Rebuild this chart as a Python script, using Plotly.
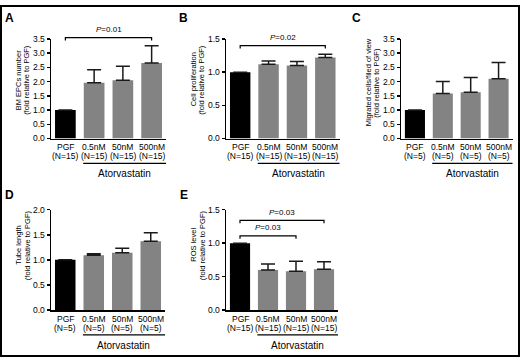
import plotly.graph_objects as go

W, H = 520, 362
FONT = "Liberation Sans, Arial, sans-serif"

categories = ["PGF", "0.5nM", "50nM", "500nM"]
group_label = "Atorvastatin"

A_n = ["(N=15)", "(N=15)", "(N=15)", "(N=15)"]
A_vals = [1.0, 1.96, 2.05, 2.66]
A_err = [0.0, 0.46, 0.49, 0.60]

B_n = ["(N=15)", "(N=15)", "(N=15)", "(N=15)"]
B_vals = [1.0, 1.12, 1.10, 1.22]
B_err = [0.0, 0.05, 0.06, 0.05]

C_n = ["(N=5)", "(N=5)", "(N=5)", "(N=5)"]
C_vals = [1.0, 1.58, 1.63, 2.10]
C_err = [0.0, 0.43, 0.52, 0.57]

D_n = ["(N=5)", "(N=5)", "(N=5)", "(N=5)"]
D_vals = [1.0, 1.09, 1.14, 1.37]
D_err = [0.0, 0.03, 0.09, 0.17]

E_n = ["(N=15)", "(N=15)", "(N=15)", "(N=15)"]
E_vals = [1.0, 0.60, 0.58, 0.61]
E_err = [0.0, 0.09, 0.15, 0.11]

bar_colors = ["#000000", "#838383", "#838383", "#838383"]

panels = [
    dict(label="A", vals=A_vals, err=A_err, ns=A_n,
         ytitle=["BM EPCs number", "(fold relative to PGF)"],
         xdom=(51, 166), ydom=(35, 137.3), ymax=3.5, dtick=0.5,
         brackets=[(0, 3, 3.55, "=0.01")], lab=(9, 13.5), ty=77),
    dict(label="B", vals=B_vals, err=B_err, ns=B_n,
         ytitle=["Cell proliferation", "(fold relative to PGF)"],
         xdom=(226, 339.5), ydom=(35, 137.3), ymax=1.5, dtick=0.5,
         brackets=[(0, 3, 1.40, "=0.02")], lab=(183.5, 13.5), ty=77),
    dict(label="C", vals=C_vals, err=C_err, ns=C_n,
         ytitle=["Migrated cells/filed of view", "(fold relative to PGF)"],
         xdom=(401, 512.5), ydom=(35, 137.3), ymax=3.5, dtick=0.5,
         brackets=[], lab=(356.5, 13.5), ty=80),
    dict(label="D", vals=D_vals, err=D_err, ns=D_n,
         ytitle=["Tube length", "(fold relative to PGF)"],
         xdom=(51, 165), ydom=(210.5, 313.7), ymax=2.0, dtick=0.5,
         brackets=[], lab=(9, 195), ty=247),
    dict(label="E", vals=E_vals, err=E_err, ns=E_n,
         ytitle=["ROS level", "(fold relative to PGF)"],
         xdom=(226, 338), ydom=(210.5, 313.7), ymax=1.5, dtick=0.5,
         brackets=[(0, 3, 1.34, "=0.03"), (0, 2, 1.11, "=0.03")],
         lab=(183.5, 195), ty=247),
]

TITLE_OFFSETS = (32.5, 24)  # px left of the y axis for line 1 and line 2


def px(x):
    return x / W


def py(y):
    return 1 - y / H


fig = go.Figure()
shapes = []
annotations = []
layout = {}

for i, p in enumerate(panels):
    k = "" if i == 0 else str(i + 1)
    xa, ya = "x" + k, "y" + k
    fig.add_trace(go.Bar(
        x=list(range(len(categories))), y=p["vals"],
        xaxis=xa, yaxis=ya,
        marker=dict(color=bar_colors, line=dict(width=0)),
        error_y=dict(type="data", array=p["err"], arrayminus=[0] * 4,
                     symmetric=False, color="#1a1a1a", thickness=1.5, width=7),
        showlegend=False, hoverinfo="skip",
    ))
    x0, x1 = p["xdom"]
    yt, yb = p["ydom"]
    layout["xaxis" + k] = dict(
        domain=[px(x0), px(x1)], anchor=ya, range=[-0.5, 3.5],
        tickmode="array", tickvals=list(range(4)), showticklabels=False,
        showline=True, linecolor="black", linewidth=1.5, ticks="",
        showgrid=False, zeroline=False, fixedrange=True,
    )
    layout["yaxis" + k] = dict(
        domain=[py(yb), py(yt)], anchor=xa, range=[0, p["ymax"]],
        dtick=p["dtick"], tickformat=".1f",
        showline=True, linecolor="black", linewidth=1.5,
        ticks="outside", ticklen=3, tickwidth=1.5, tickcolor="black",
        tickfont=dict(family=FONT, size=8.5, color="black"),
        showgrid=False, zeroline=False, fixedrange=True,
    )

    def cx(idx, x0=x0, x1=x1):
        return px(x0 + (idx + 0.5) / 4 * (x1 - x0))

    def vy(v, yt=yt, yb=yb, ymax=p["ymax"]):
        return py(yb - v / ymax * (yb - yt))

    # category labels (two lines) on the x axis positions
    for j, (c, n) in enumerate(zip(categories, p["ns"])):
        annotations.append(dict(x=j, y=py(yb + 9), xref=xa, yref="paper",
                                text=c, showarrow=False,
                                font=dict(family=FONT, size=8.5, color="black"),
                                xanchor="center", yanchor="middle"))
        annotations.append(dict(x=j, y=py(yb + 18.5), xref=xa, yref="paper",
                                text=n, showarrow=False,
                                font=dict(family=FONT, size=8.5, color="black"),
                                xanchor="center", yanchor="middle"))
    # group underline + label
    ux0 = px(x0 + 0.28 * (x1 - x0))
    ux1 = px(x1)
    shapes.append(dict(type="line", xref="paper", yref="paper",
                       x0=ux0, x1=ux1, y0=py(yb + 25.5), y1=py(yb + 25.5),
                       line=dict(color="black", width=1.2)))
    annotations.append(dict(x=(ux0 + ux1) / 2, y=py(yb + 36), xref="paper", yref="paper",
                            text=group_label, showarrow=False,
                            font=dict(family=FONT, size=10, color="black"),
                            xanchor="center", yanchor="middle"))
    # y title (two lines)
    for line, off in zip(p["ytitle"], TITLE_OFFSETS):
        annotations.append(dict(x=px(x0 - off), y=py(p["ty"]), xref="paper", yref="paper",
                                text=line, textangle=-90, showarrow=False,
                                font=dict(family=FONT, size=7.5, color="black"),
                                xanchor="center", yanchor="middle"))
    # panel label
    annotations.append(dict(x=px(p["lab"][0]), y=py(p["lab"][1]), xref="paper", yref="paper",
                            text="<b>" + p["label"] + "</b>", showarrow=False,
                            font=dict(family=FONT, size=12, color="black"),
                            xanchor="center", yanchor="middle"))
    # significance brackets
    for (a, b, lvl, ptxt) in p["brackets"]:
        yy = vy(lvl)
        tick = 3 / H
        shapes.append(dict(type="path", xref="paper", yref="paper",
                           path=f"M {cx(a)},{yy - tick} L {cx(a)},{yy} L {cx(b)},{yy} L {cx(b)},{yy - tick}",
                           line=dict(color="black", width=1.2)))
        annotations.append(dict(x=(cx(a) + cx(b)) / 2, y=yy + 8 / H, xref="paper", yref="paper",
                                text="<i>P</i>" + ptxt, showarrow=False,
                                font=dict(family=FONT, size=8, color="black"),
                                xanchor="center", yanchor="middle"))

# outer frame
shapes.append(dict(type="rect", xref="paper", yref="paper",
                   x0=px(1), x1=px(519), y0=py(361), y1=py(1),
                   line=dict(color="black", width=2)))

fig.update_layout(
    width=W, height=H, margin=dict(l=0, r=0, t=0, b=0),
    paper_bgcolor="white", plot_bgcolor="white",
    bargap=0.28, shapes=shapes, annotations=annotations,
    font=dict(family=FONT, color="black"),
    **layout,
)

fig.write_html("out.html",
               config={"displayModeBar": False, "staticPlot": True},
               post_script="document.body.style.margin='0px';document.body.style.overflow='hidden';")
